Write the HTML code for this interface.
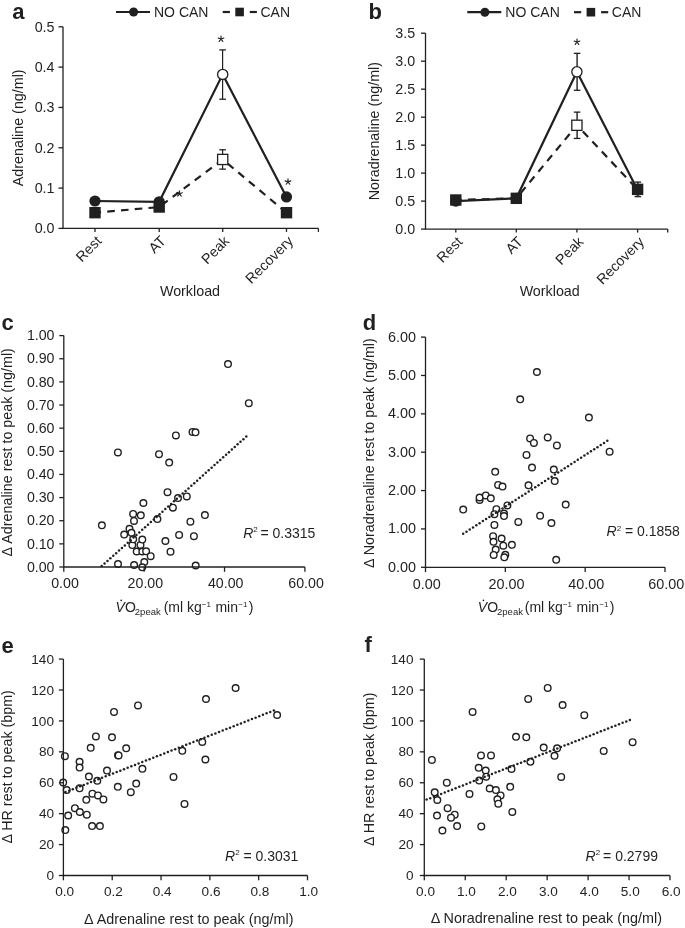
<!DOCTYPE html>
<html><head><meta charset="utf-8"><title>Figure</title>
<style>
html,body{margin:0;padding:0;background:#fff;}
body{width:685px;height:928px;overflow:hidden;}
svg{display:block;font-family:"Liberation Sans",sans-serif;filter:grayscale(1);}
text{fill:#231f20;stroke:none;}
</style></head><body>
<svg width="685" height="928" viewBox="0 0 685 928" stroke="#231f20" fill="none">
<rect x="0" y="0" width="685" height="928" fill="#fff" stroke="none"/>
<line x1="63" y1="26.8" x2="63" y2="228.4" stroke-width="1.3"/>
<line x1="58.5" y1="228.4" x2="63" y2="228.4" stroke-width="1.3"/>
<text x="54.5" y="233.4" font-size="14.3" text-anchor="end">0.0</text>
<line x1="58.5" y1="188.08" x2="63" y2="188.08" stroke-width="1.3"/>
<text x="54.5" y="193.08" font-size="14.3" text-anchor="end">0.1</text>
<line x1="58.5" y1="147.76" x2="63" y2="147.76" stroke-width="1.3"/>
<text x="54.5" y="152.76" font-size="14.3" text-anchor="end">0.2</text>
<line x1="58.5" y1="107.44000000000001" x2="63" y2="107.44000000000001" stroke-width="1.3"/>
<text x="54.5" y="112.44" font-size="14.3" text-anchor="end">0.3</text>
<line x1="58.5" y1="67.12" x2="63" y2="67.12" stroke-width="1.3"/>
<text x="54.5" y="72.12" font-size="14.3" text-anchor="end">0.4</text>
<line x1="58.5" y1="26.80000000000001" x2="63" y2="26.80000000000001" stroke-width="1.3"/>
<text x="54.5" y="31.8" font-size="14.3" text-anchor="end">0.5</text>
<line x1="62.4" y1="228.4" x2="318.4" y2="228.4" stroke-width="1.3"/>
<line x1="95" y1="228.4" x2="95" y2="231.9" stroke-width="1.3"/>
<line x1="159.2" y1="228.4" x2="159.2" y2="231.9" stroke-width="1.3"/>
<line x1="222.7" y1="228.4" x2="222.7" y2="231.9" stroke-width="1.3"/>
<line x1="286.5" y1="228.4" x2="286.5" y2="231.9" stroke-width="1.3"/>
<line x1="318.4" y1="228.4" x2="318.4" y2="231.9" stroke-width="1.3"/>
<text x="102.5" y="241.9" font-size="14.3" text-anchor="end" transform="rotate(-45 102.5 241.9)">Rest</text>
<text x="166.7" y="241.9" font-size="14.3" text-anchor="end" transform="rotate(-45 166.7 241.9)">AT</text>
<text x="230.2" y="241.9" font-size="14.3" text-anchor="end" transform="rotate(-45 230.2 241.9)">Peak</text>
<text x="294.0" y="241.9" font-size="14.3" text-anchor="end" transform="rotate(-45 294.0 241.9)">Recovery</text>
<text x="190" y="295.8" font-size="14.3" text-anchor="middle">Workload</text>
<text x="23.0" y="127.8" font-size="14.3" text-anchor="middle" transform="rotate(-90 23.0 127.8)">Adrenaline (ng/ml)</text>
<text x="12.3" y="19.2" font-size="22" text-anchor="start" font-weight="bold">a</text>
<line x1="116" y1="12" x2="150" y2="12" stroke-width="2.2"/>
<circle cx="133.6" cy="12" r="4.5" fill="#231f20" stroke="none"/>
<text x="154" y="17" font-size="14" text-anchor="start">NO CAN</text>
<line x1="222.7" y1="12" x2="229.9" y2="12" stroke-width="2.2"/>
<rect x="235.3" y="7.7" width="8.6" height="8.6" fill="#231f20" stroke="none"/>
<line x1="249.8" y1="12" x2="256.9" y2="12" stroke-width="2.2"/>
<text x="260.5" y="17" font-size="14" text-anchor="start">CAN</text>
<line x1="222.6" y1="99.21472" x2="222.6" y2="49.90336000000002" stroke-width="1.2"/>
<line x1="219.29999999999998" y1="99.21472" x2="225.9" y2="99.21472" stroke-width="1.3"/>
<line x1="219.29999999999998" y1="49.90336000000002" x2="225.9" y2="49.90336000000002" stroke-width="1.3"/>
<line x1="222.6" y1="169.1296" x2="222.6" y2="149.776" stroke-width="1.2"/>
<line x1="219.29999999999998" y1="169.1296" x2="225.9" y2="169.1296" stroke-width="1.3"/>
<line x1="219.29999999999998" y1="149.776" x2="225.9" y2="149.776" stroke-width="1.3"/>
<polyline points="95.00,200.98 159.20,201.79 222.70,74.38 286.50,196.95" fill="none" stroke-width="2.2" stroke-linejoin="miter"/>
<polyline points="95.00,212.68 159.20,207.03 222.70,159.45 286.50,212.68" fill="none" stroke-width="2.2" stroke-dasharray="7.6 6.2" stroke-dashoffset="1.5"/>
<circle cx="95.00" cy="200.98" r="5.6" fill="#231f20" stroke="none"/>
<circle cx="159.20" cy="201.79" r="5.6" fill="#231f20" stroke="none"/>
<circle cx="222.70" cy="74.38" r="5.1" fill="#fff" stroke-width="1.3"/>
<circle cx="286.50" cy="196.95" r="5.6" fill="#231f20" stroke="none"/>
<rect x="89.30" y="206.98" width="11.4" height="11.4" fill="#231f20" stroke="none"/>
<rect x="153.50" y="201.33" width="11.4" height="11.4" fill="#231f20" stroke="none"/>
<rect x="217.60" y="154.35" width="10.2" height="10.2" fill="#fff" stroke-width="1.3"/>
<rect x="280.80" y="206.98" width="11.4" height="11.4" fill="#231f20" stroke="none"/>
<path d="M221.00,39.00L221.00,36.00M221.00,39.00L223.85,38.07M221.00,39.00L222.76,41.43M221.00,39.00L219.24,41.43M221.00,39.00L218.15,38.07" stroke-width="1.15" stroke-linecap="round"/>
<path d="M288.00,181.80L288.00,178.80M288.00,181.80L290.85,180.87M288.00,181.80L289.76,184.23M288.00,181.80L286.24,184.23M288.00,181.80L285.15,180.87" stroke-width="1.15" stroke-linecap="round"/>
<path d="M179.50,193.70L179.50,190.70M179.50,193.70L182.35,192.77M179.50,193.70L181.26,196.13M179.50,193.70L177.74,196.13M179.50,193.70L176.65,192.77" stroke-width="1.15" stroke-linecap="round"/>
<line x1="425.5" y1="33.2" x2="425.5" y2="229.1" stroke-width="1.3"/>
<line x1="421.0" y1="229.1" x2="425.5" y2="229.1" stroke-width="1.3"/>
<text x="415.1" y="234.1" font-size="14.3" text-anchor="end">0.0</text>
<line x1="421.0" y1="201.1142857142857" x2="425.5" y2="201.1142857142857" stroke-width="1.3"/>
<text x="415.1" y="206.11" font-size="14.3" text-anchor="end">0.5</text>
<line x1="421.0" y1="173.12857142857143" x2="425.5" y2="173.12857142857143" stroke-width="1.3"/>
<text x="415.1" y="178.13" font-size="14.3" text-anchor="end">1.0</text>
<line x1="421.0" y1="145.14285714285717" x2="425.5" y2="145.14285714285717" stroke-width="1.3"/>
<text x="415.1" y="150.14" font-size="14.3" text-anchor="end">1.5</text>
<line x1="421.0" y1="117.15714285714286" x2="425.5" y2="117.15714285714286" stroke-width="1.3"/>
<text x="415.1" y="122.16" font-size="14.3" text-anchor="end">2.0</text>
<line x1="421.0" y1="89.17142857142858" x2="425.5" y2="89.17142857142858" stroke-width="1.3"/>
<text x="415.1" y="94.17" font-size="14.3" text-anchor="end">2.5</text>
<line x1="421.0" y1="61.18571428571431" x2="425.5" y2="61.18571428571431" stroke-width="1.3"/>
<text x="415.1" y="66.19" font-size="14.3" text-anchor="end">3.0</text>
<line x1="421.0" y1="33.200000000000045" x2="425.5" y2="33.200000000000045" stroke-width="1.3"/>
<text x="415.1" y="38.2" font-size="14.3" text-anchor="end">3.5</text>
<line x1="424.9" y1="229.1" x2="667.7" y2="229.1" stroke-width="1.3"/>
<line x1="455.8" y1="229.1" x2="455.8" y2="232.6" stroke-width="1.3"/>
<line x1="516.3" y1="229.1" x2="516.3" y2="232.6" stroke-width="1.3"/>
<line x1="576.9" y1="229.1" x2="576.9" y2="232.6" stroke-width="1.3"/>
<line x1="637.6" y1="229.1" x2="637.6" y2="232.6" stroke-width="1.3"/>
<line x1="667.7" y1="229.1" x2="667.7" y2="232.6" stroke-width="1.3"/>
<text x="463.3" y="242.6" font-size="14.3" text-anchor="end" transform="rotate(-45 463.3 242.6)">Rest</text>
<text x="523.8" y="242.6" font-size="14.3" text-anchor="end" transform="rotate(-45 523.8 242.6)">AT</text>
<text x="584.4" y="242.6" font-size="14.3" text-anchor="end" transform="rotate(-45 584.4 242.6)">Peak</text>
<text x="645.1" y="242.6" font-size="14.3" text-anchor="end" transform="rotate(-45 645.1 242.6)">Recovery</text>
<text x="549.7" y="296.2" font-size="14.3" text-anchor="middle">Workload</text>
<text x="378.9" y="131.1" font-size="14.3" text-anchor="middle" transform="rotate(-90 378.9 131.1)">Noradrenaline (ng/ml)</text>
<text x="368.5" y="19.2" font-size="22" text-anchor="start" font-weight="bold">b</text>
<line x1="467.3" y1="12.2" x2="501.3" y2="12.2" stroke-width="2.2"/>
<circle cx="484.90000000000003" cy="12.2" r="4.5" fill="#231f20" stroke="none"/>
<text x="505.3" y="17.2" font-size="14" text-anchor="start">NO CAN</text>
<line x1="574.0" y1="12.2" x2="581.1999999999999" y2="12.2" stroke-width="2.2"/>
<rect x="586.5999999999999" y="7.8999999999999995" width="8.6" height="8.6" fill="#231f20" stroke="none"/>
<line x1="601.0999999999999" y1="12.2" x2="608.1999999999999" y2="12.2" stroke-width="2.2"/>
<text x="611.8" y="17.2" font-size="14" text-anchor="start">CAN</text>
<line x1="577.1" y1="90.2944" x2="577.1" y2="53.35419999999999" stroke-width="1.4"/>
<line x1="573.8000000000001" y1="90.2944" x2="580.4" y2="90.2944" stroke-width="1.3"/>
<line x1="573.8000000000001" y1="53.35419999999999" x2="580.4" y2="53.35419999999999" stroke-width="1.3"/>
<line x1="577.1" y1="138.4286" x2="577.1" y2="112.12270000000001" stroke-width="1.4"/>
<line x1="573.8000000000001" y1="138.4286" x2="580.4" y2="138.4286" stroke-width="1.3"/>
<line x1="573.8000000000001" y1="112.12270000000001" x2="580.4" y2="112.12270000000001" stroke-width="1.3"/>
<line x1="637.9" y1="196.6374" x2="637.9" y2="182.0852" stroke-width="1.4"/>
<line x1="634.6" y1="196.6374" x2="641.1999999999999" y2="196.6374" stroke-width="1.3"/>
<line x1="634.6" y1="182.0852" x2="641.1999999999999" y2="182.0852" stroke-width="1.3"/>
<polyline points="455.80,201.12 516.30,198.32 576.90,71.82 637.60,189.92" fill="none" stroke-width="2.2" stroke-linejoin="miter"/>
<polyline points="455.80,200.00 516.30,198.32 576.90,125.28 637.60,189.36" fill="none" stroke-width="2.2" stroke-dasharray="7.6 6.2" stroke-dashoffset="1.5"/>
<circle cx="455.80" cy="201.12" r="5.6" fill="#231f20" stroke="none"/>
<circle cx="516.30" cy="198.32" r="5.6" fill="#231f20" stroke="none"/>
<circle cx="576.90" cy="71.82" r="5.1" fill="#fff" stroke-width="1.3"/>
<circle cx="637.60" cy="189.92" r="5.6" fill="#231f20" stroke="none"/>
<rect x="450.10" y="194.30" width="11.4" height="11.4" fill="#231f20" stroke="none"/>
<rect x="510.60" y="192.62" width="11.4" height="11.4" fill="#231f20" stroke="none"/>
<rect x="571.80" y="120.18" width="10.2" height="10.2" fill="#fff" stroke-width="1.3"/>
<rect x="631.90" y="183.66" width="11.4" height="11.4" fill="#231f20" stroke="none"/>
<path d="M577.00,42.00L577.00,39.00M577.00,42.00L579.85,41.07M577.00,42.00L578.76,44.43M577.00,42.00L575.24,44.43M577.00,42.00L574.15,41.07" stroke-width="1.15" stroke-linecap="round"/>
<circle cx="228" cy="364.1" r="3.3" fill="#fff" stroke-width="1.4"/>
<circle cx="248.8" cy="403.2" r="3.3" fill="#fff" stroke-width="1.4"/>
<circle cx="192.5" cy="431.9" r="3.3" fill="#fff" stroke-width="1.4"/>
<circle cx="195.5" cy="432.3" r="3.3" fill="#fff" stroke-width="1.4"/>
<circle cx="175.9" cy="435.4" r="3.3" fill="#fff" stroke-width="1.4"/>
<circle cx="117.9" cy="452.4" r="3.3" fill="#fff" stroke-width="1.4"/>
<circle cx="159" cy="454.2" r="3.3" fill="#fff" stroke-width="1.4"/>
<circle cx="169.2" cy="462.6" r="3.3" fill="#fff" stroke-width="1.4"/>
<circle cx="167.5" cy="492.2" r="3.3" fill="#fff" stroke-width="1.4"/>
<circle cx="178" cy="498.1" r="3.3" fill="#fff" stroke-width="1.4"/>
<circle cx="186.8" cy="496.4" r="3.3" fill="#fff" stroke-width="1.4"/>
<circle cx="143.4" cy="503" r="3.3" fill="#fff" stroke-width="1.4"/>
<circle cx="172.9" cy="507.7" r="3.3" fill="#fff" stroke-width="1.4"/>
<circle cx="133.1" cy="513.9" r="3.3" fill="#fff" stroke-width="1.4"/>
<circle cx="140.8" cy="515.3" r="3.3" fill="#fff" stroke-width="1.4"/>
<circle cx="134" cy="520.9" r="3.3" fill="#fff" stroke-width="1.4"/>
<circle cx="157.4" cy="519.1" r="3.3" fill="#fff" stroke-width="1.4"/>
<circle cx="190.4" cy="521.7" r="3.3" fill="#fff" stroke-width="1.4"/>
<circle cx="204.9" cy="515.1" r="3.3" fill="#fff" stroke-width="1.4"/>
<circle cx="101.9" cy="525.3" r="3.3" fill="#fff" stroke-width="1.4"/>
<circle cx="129.5" cy="528.8" r="3.3" fill="#fff" stroke-width="1.4"/>
<circle cx="124.2" cy="534.6" r="3.3" fill="#fff" stroke-width="1.4"/>
<circle cx="131.5" cy="532.8" r="3.3" fill="#fff" stroke-width="1.4"/>
<circle cx="132.3" cy="545.1" r="3.3" fill="#fff" stroke-width="1.4"/>
<circle cx="140.5" cy="544.9" r="3.3" fill="#fff" stroke-width="1.4"/>
<circle cx="133.2" cy="539.3" r="3.3" fill="#fff" stroke-width="1.4"/>
<circle cx="142.3" cy="539.6" r="3.3" fill="#fff" stroke-width="1.4"/>
<circle cx="136.7" cy="551.5" r="3.3" fill="#fff" stroke-width="1.4"/>
<circle cx="142.3" cy="551.5" r="3.3" fill="#fff" stroke-width="1.4"/>
<circle cx="146.1" cy="551.3" r="3.3" fill="#fff" stroke-width="1.4"/>
<circle cx="150.7" cy="556.2" r="3.3" fill="#fff" stroke-width="1.4"/>
<circle cx="165.4" cy="541" r="3.3" fill="#fff" stroke-width="1.4"/>
<circle cx="170.5" cy="551.7" r="3.3" fill="#fff" stroke-width="1.4"/>
<circle cx="179.1" cy="534.9" r="3.3" fill="#fff" stroke-width="1.4"/>
<circle cx="193.9" cy="536.2" r="3.3" fill="#fff" stroke-width="1.4"/>
<circle cx="118" cy="564" r="3.3" fill="#fff" stroke-width="1.4"/>
<circle cx="134.1" cy="565" r="3.3" fill="#fff" stroke-width="1.4"/>
<circle cx="144.3" cy="562" r="3.3" fill="#fff" stroke-width="1.4"/>
<circle cx="142.2" cy="567.3" r="3.3" fill="#fff" stroke-width="1.4"/>
<circle cx="195.7" cy="565.5" r="3.3" fill="#fff" stroke-width="1.4"/>
<g fill="#231f20" stroke="none"><circle cx="101.70" cy="566.10" r="1.25"/><circle cx="104.59" cy="563.51" r="1.25"/><circle cx="107.48" cy="560.92" r="1.25"/><circle cx="110.38" cy="558.33" r="1.25"/><circle cx="113.27" cy="555.74" r="1.25"/><circle cx="116.16" cy="553.15" r="1.25"/><circle cx="119.05" cy="550.56" r="1.25"/><circle cx="121.94" cy="547.97" r="1.25"/><circle cx="124.84" cy="545.38" r="1.25"/><circle cx="127.73" cy="542.79" r="1.25"/><circle cx="130.62" cy="540.20" r="1.25"/><circle cx="133.51" cy="537.61" r="1.25"/><circle cx="136.40" cy="535.02" r="1.25"/><circle cx="139.30" cy="532.43" r="1.25"/><circle cx="142.19" cy="529.84" r="1.25"/><circle cx="145.08" cy="527.25" r="1.25"/><circle cx="147.97" cy="524.66" r="1.25"/><circle cx="150.86" cy="522.07" r="1.25"/><circle cx="153.76" cy="519.48" r="1.25"/><circle cx="156.65" cy="516.89" r="1.25"/><circle cx="159.54" cy="514.30" r="1.25"/><circle cx="162.43" cy="511.71" r="1.25"/><circle cx="165.32" cy="509.12" r="1.25"/><circle cx="168.22" cy="506.53" r="1.25"/><circle cx="171.11" cy="503.94" r="1.25"/><circle cx="174.00" cy="501.35" r="1.25"/><circle cx="176.89" cy="498.76" r="1.25"/><circle cx="179.78" cy="496.17" r="1.25"/><circle cx="182.68" cy="493.58" r="1.25"/><circle cx="185.57" cy="490.99" r="1.25"/><circle cx="188.46" cy="488.40" r="1.25"/><circle cx="191.35" cy="485.81" r="1.25"/><circle cx="194.24" cy="483.22" r="1.25"/><circle cx="197.14" cy="480.63" r="1.25"/><circle cx="200.03" cy="478.04" r="1.25"/><circle cx="202.92" cy="475.45" r="1.25"/><circle cx="205.81" cy="472.86" r="1.25"/><circle cx="208.70" cy="470.27" r="1.25"/><circle cx="211.60" cy="467.68" r="1.25"/><circle cx="214.49" cy="465.09" r="1.25"/><circle cx="217.38" cy="462.50" r="1.25"/><circle cx="220.27" cy="459.91" r="1.25"/><circle cx="223.16" cy="457.32" r="1.25"/><circle cx="226.06" cy="454.73" r="1.25"/><circle cx="228.95" cy="452.14" r="1.25"/><circle cx="231.84" cy="449.55" r="1.25"/><circle cx="234.73" cy="446.96" r="1.25"/><circle cx="237.62" cy="444.37" r="1.25"/><circle cx="240.52" cy="441.78" r="1.25"/><circle cx="243.41" cy="439.19" r="1.25"/><circle cx="246.30" cy="436.60" r="1.25"/></g>
<line x1="63.8" y1="335.6" x2="63.8" y2="567" stroke-width="1.3"/>
<line x1="59.3" y1="567.0" x2="63.8" y2="567.0" stroke-width="1.3"/>
<text x="54.5" y="571.7" font-size="14.2" text-anchor="end">0.00</text>
<line x1="59.3" y1="543.86" x2="63.8" y2="543.86" stroke-width="1.3"/>
<text x="54.5" y="548.56" font-size="14.2" text-anchor="end">0.10</text>
<line x1="59.3" y1="520.72" x2="63.8" y2="520.72" stroke-width="1.3"/>
<text x="54.5" y="525.42" font-size="14.2" text-anchor="end">0.20</text>
<line x1="59.3" y1="497.58000000000004" x2="63.8" y2="497.58000000000004" stroke-width="1.3"/>
<text x="54.5" y="502.28" font-size="14.2" text-anchor="end">0.30</text>
<line x1="59.3" y1="474.44" x2="63.8" y2="474.44" stroke-width="1.3"/>
<text x="54.5" y="479.14" font-size="14.2" text-anchor="end">0.40</text>
<line x1="59.3" y1="451.3" x2="63.8" y2="451.3" stroke-width="1.3"/>
<text x="54.5" y="456.0" font-size="14.2" text-anchor="end">0.50</text>
<line x1="59.3" y1="428.16" x2="63.8" y2="428.16" stroke-width="1.3"/>
<text x="54.5" y="432.86" font-size="14.2" text-anchor="end">0.60</text>
<line x1="59.3" y1="405.02000000000004" x2="63.8" y2="405.02000000000004" stroke-width="1.3"/>
<text x="54.5" y="409.72" font-size="14.2" text-anchor="end">0.70</text>
<line x1="59.3" y1="381.88" x2="63.8" y2="381.88" stroke-width="1.3"/>
<text x="54.5" y="386.58" font-size="14.2" text-anchor="end">0.80</text>
<line x1="59.3" y1="358.74" x2="63.8" y2="358.74" stroke-width="1.3"/>
<text x="54.5" y="363.44" font-size="14.2" text-anchor="end">0.90</text>
<line x1="59.3" y1="335.6" x2="63.8" y2="335.6" stroke-width="1.3"/>
<text x="54.5" y="340.3" font-size="14.2" text-anchor="end">1.00</text>
<line x1="63.199999999999996" y1="567" x2="304.9" y2="567" stroke-width="1.3"/>
<line x1="63.8" y1="567" x2="63.8" y2="571.8" stroke-width="1.3"/>
<text x="65.0" y="588.4" font-size="14.2" text-anchor="middle">0.00</text>
<line x1="144.16666666666666" y1="567" x2="144.16666666666666" y2="571.8" stroke-width="1.3"/>
<text x="145.37" y="588.4" font-size="14.2" text-anchor="middle">20.00</text>
<line x1="224.5333333333333" y1="567" x2="224.5333333333333" y2="571.8" stroke-width="1.3"/>
<text x="225.73" y="588.4" font-size="14.2" text-anchor="middle">40.00</text>
<line x1="304.9" y1="567" x2="304.9" y2="571.8" stroke-width="1.3"/>
<text x="306.1" y="588.4" font-size="14.2" text-anchor="middle">60.00</text>
<text x="1.5" y="330" font-size="22" text-anchor="start" font-weight="bold">c</text>
<text x="11.9" y="452.3" font-size="14.3" text-anchor="middle" transform="rotate(-90 11.9 452.3)">&#916; Adrenaline rest to peak (ng/ml)</text>
<text x="115.6" y="612" font-size="14"><tspan font-style="italic">V</tspan>O<tspan font-size="9.5" dy="3" dx="-1">2peak</tspan></text><text x="163.7" y="612" font-size="14">(ml kg<tspan font-size="8" dy="-5">&#8722;1</tspan><tspan dy="5" dx="0.6"> min</tspan><tspan font-size="8" dy="-5" dx="0.3">&#8722;1</tspan><tspan dy="5" dx="1.2">)</tspan></text><circle cx="121.19999999999999" cy="600.3" r="0.85" fill="#231f20" stroke="none"/>
<text x="243.2" y="537.6" font-size="14"><tspan font-style="italic">R</tspan><tspan font-size="8" dy="-5.5">2</tspan><tspan dy="5.5" dx="-1.2"> = 0.3315</tspan></text>
<circle cx="536.9" cy="372" r="3.3" fill="#fff" stroke-width="1.4"/>
<circle cx="520.2" cy="399.3" r="3.3" fill="#fff" stroke-width="1.4"/>
<circle cx="588.9" cy="417.5" r="3.3" fill="#fff" stroke-width="1.4"/>
<circle cx="530.1" cy="438.4" r="3.3" fill="#fff" stroke-width="1.4"/>
<circle cx="533.9" cy="442.9" r="3.3" fill="#fff" stroke-width="1.4"/>
<circle cx="547.7" cy="437.4" r="3.3" fill="#fff" stroke-width="1.4"/>
<circle cx="556.9" cy="445.4" r="3.3" fill="#fff" stroke-width="1.4"/>
<circle cx="609.6" cy="451.7" r="3.3" fill="#fff" stroke-width="1.4"/>
<circle cx="526.5" cy="454.9" r="3.3" fill="#fff" stroke-width="1.4"/>
<circle cx="532" cy="467.6" r="3.3" fill="#fff" stroke-width="1.4"/>
<circle cx="553.8" cy="469.6" r="3.3" fill="#fff" stroke-width="1.4"/>
<circle cx="495.2" cy="471.8" r="3.3" fill="#fff" stroke-width="1.4"/>
<circle cx="554.7" cy="481.1" r="3.3" fill="#fff" stroke-width="1.4"/>
<circle cx="528.5" cy="485.3" r="3.3" fill="#fff" stroke-width="1.4"/>
<circle cx="498.1" cy="484.9" r="3.3" fill="#fff" stroke-width="1.4"/>
<circle cx="502.5" cy="486.6" r="3.3" fill="#fff" stroke-width="1.4"/>
<circle cx="479.6" cy="500" r="3.3" fill="#fff" stroke-width="1.4"/>
<circle cx="479.6" cy="497.5" r="3.3" fill="#fff" stroke-width="1.4"/>
<circle cx="485.8" cy="495.4" r="3.3" fill="#fff" stroke-width="1.4"/>
<circle cx="490.8" cy="498.3" r="3.3" fill="#fff" stroke-width="1.4"/>
<circle cx="463.2" cy="509.6" r="3.3" fill="#fff" stroke-width="1.4"/>
<circle cx="496.4" cy="509.2" r="3.3" fill="#fff" stroke-width="1.4"/>
<circle cx="494.4" cy="514.2" r="3.3" fill="#fff" stroke-width="1.4"/>
<circle cx="507.4" cy="505.4" r="3.3" fill="#fff" stroke-width="1.4"/>
<circle cx="565.7" cy="504.6" r="3.3" fill="#fff" stroke-width="1.4"/>
<circle cx="504" cy="513.5" r="3.3" fill="#fff" stroke-width="1.4"/>
<circle cx="504" cy="516.1" r="3.3" fill="#fff" stroke-width="1.4"/>
<circle cx="518.3" cy="521.9" r="3.3" fill="#fff" stroke-width="1.4"/>
<circle cx="540.1" cy="515.7" r="3.3" fill="#fff" stroke-width="1.4"/>
<circle cx="551.4" cy="523" r="3.3" fill="#fff" stroke-width="1.4"/>
<circle cx="494.4" cy="524.9" r="3.3" fill="#fff" stroke-width="1.4"/>
<circle cx="493.1" cy="536.2" r="3.3" fill="#fff" stroke-width="1.4"/>
<circle cx="493.5" cy="541.8" r="3.3" fill="#fff" stroke-width="1.4"/>
<circle cx="501.6" cy="538.5" r="3.3" fill="#fff" stroke-width="1.4"/>
<circle cx="503.3" cy="545.7" r="3.3" fill="#fff" stroke-width="1.4"/>
<circle cx="511.9" cy="544.8" r="3.3" fill="#fff" stroke-width="1.4"/>
<circle cx="495.7" cy="549.6" r="3.3" fill="#fff" stroke-width="1.4"/>
<circle cx="493.7" cy="554.9" r="3.3" fill="#fff" stroke-width="1.4"/>
<circle cx="505.3" cy="554.8" r="3.3" fill="#fff" stroke-width="1.4"/>
<circle cx="504.3" cy="557.3" r="3.3" fill="#fff" stroke-width="1.4"/>
<circle cx="556.2" cy="559.8" r="3.3" fill="#fff" stroke-width="1.4"/>
<g fill="#231f20" stroke="none"><circle cx="463.20" cy="533.80" r="1.25"/><circle cx="466.47" cy="531.69" r="1.25"/><circle cx="469.75" cy="529.57" r="1.25"/><circle cx="473.02" cy="527.46" r="1.25"/><circle cx="476.30" cy="525.35" r="1.25"/><circle cx="479.57" cy="523.23" r="1.25"/><circle cx="482.85" cy="521.12" r="1.25"/><circle cx="486.12" cy="519.00" r="1.25"/><circle cx="489.40" cy="516.89" r="1.25"/><circle cx="492.67" cy="514.78" r="1.25"/><circle cx="495.95" cy="512.66" r="1.25"/><circle cx="499.22" cy="510.55" r="1.25"/><circle cx="502.50" cy="508.44" r="1.25"/><circle cx="505.77" cy="506.32" r="1.25"/><circle cx="509.05" cy="504.21" r="1.25"/><circle cx="512.32" cy="502.10" r="1.25"/><circle cx="515.60" cy="499.98" r="1.25"/><circle cx="518.88" cy="497.87" r="1.25"/><circle cx="522.15" cy="495.75" r="1.25"/><circle cx="525.42" cy="493.64" r="1.25"/><circle cx="528.70" cy="491.53" r="1.25"/><circle cx="531.98" cy="489.41" r="1.25"/><circle cx="535.25" cy="487.30" r="1.25"/><circle cx="538.52" cy="485.19" r="1.25"/><circle cx="541.80" cy="483.07" r="1.25"/><circle cx="545.07" cy="480.96" r="1.25"/><circle cx="548.35" cy="478.85" r="1.25"/><circle cx="551.62" cy="476.73" r="1.25"/><circle cx="554.90" cy="474.62" r="1.25"/><circle cx="558.17" cy="472.50" r="1.25"/><circle cx="561.45" cy="470.39" r="1.25"/><circle cx="564.72" cy="468.28" r="1.25"/><circle cx="568.00" cy="466.16" r="1.25"/><circle cx="571.27" cy="464.05" r="1.25"/><circle cx="574.55" cy="461.94" r="1.25"/><circle cx="577.82" cy="459.82" r="1.25"/><circle cx="581.10" cy="457.71" r="1.25"/><circle cx="584.38" cy="455.60" r="1.25"/><circle cx="587.65" cy="453.48" r="1.25"/><circle cx="590.92" cy="451.37" r="1.25"/><circle cx="594.20" cy="449.25" r="1.25"/><circle cx="597.47" cy="447.14" r="1.25"/><circle cx="600.75" cy="445.03" r="1.25"/><circle cx="604.02" cy="442.91" r="1.25"/><circle cx="607.30" cy="440.80" r="1.25"/></g>
<line x1="425.5" y1="337.1" x2="425.5" y2="567.3" stroke-width="1.3"/>
<line x1="421.0" y1="567.3" x2="425.5" y2="567.3" stroke-width="1.3"/>
<text x="416" y="571.8" font-size="14.4" text-anchor="end">0.00</text>
<line x1="421.0" y1="528.9333333333333" x2="425.5" y2="528.9333333333333" stroke-width="1.3"/>
<text x="416" y="533.43" font-size="14.4" text-anchor="end">1.00</text>
<line x1="421.0" y1="490.56666666666666" x2="425.5" y2="490.56666666666666" stroke-width="1.3"/>
<text x="416" y="495.07" font-size="14.4" text-anchor="end">2.00</text>
<line x1="421.0" y1="452.2" x2="425.5" y2="452.2" stroke-width="1.3"/>
<text x="416" y="456.7" font-size="14.4" text-anchor="end">3.00</text>
<line x1="421.0" y1="413.83333333333337" x2="425.5" y2="413.83333333333337" stroke-width="1.3"/>
<text x="416" y="418.33" font-size="14.4" text-anchor="end">4.00</text>
<line x1="421.0" y1="375.4666666666667" x2="425.5" y2="375.4666666666667" stroke-width="1.3"/>
<text x="416" y="379.97" font-size="14.4" text-anchor="end">5.00</text>
<line x1="421.0" y1="337.1" x2="425.5" y2="337.1" stroke-width="1.3"/>
<text x="416" y="341.6" font-size="14.4" text-anchor="end">6.00</text>
<line x1="424.9" y1="567.3" x2="665" y2="567.3" stroke-width="1.3"/>
<line x1="425.5" y1="567.3" x2="425.5" y2="572.0999999999999" stroke-width="1.3"/>
<text x="426.7" y="588.6" font-size="14.4" text-anchor="middle">0.00</text>
<line x1="505.3333333333333" y1="567.3" x2="505.3333333333333" y2="572.0999999999999" stroke-width="1.3"/>
<text x="506.53" y="588.6" font-size="14.4" text-anchor="middle">20.00</text>
<line x1="585.1666666666666" y1="567.3" x2="585.1666666666666" y2="572.0999999999999" stroke-width="1.3"/>
<text x="586.37" y="588.6" font-size="14.4" text-anchor="middle">40.00</text>
<line x1="665.0" y1="567.3" x2="665.0" y2="572.0999999999999" stroke-width="1.3"/>
<text x="666.2" y="588.6" font-size="14.4" text-anchor="middle">60.00</text>
<text x="362.8" y="330" font-size="22" text-anchor="start" font-weight="bold">d</text>
<text x="374" y="453.1" font-size="14.3" text-anchor="middle" transform="rotate(-90 374 453.1)">&#916; Noradrenaline rest to peak (ng/ml)</text>
<text x="477.8" y="612" font-size="14"><tspan font-style="italic">V</tspan>O<tspan font-size="9.5" dy="3" dx="-1">2peak</tspan></text><text x="524.8" y="612" font-size="14">(ml kg<tspan font-size="8" dy="-5">&#8722;1</tspan><tspan dy="5" dx="0.6"> min</tspan><tspan font-size="8" dy="-5" dx="0.3">&#8722;1</tspan><tspan dy="5" dx="1.2">)</tspan></text><circle cx="483.40000000000003" cy="600.3" r="0.85" fill="#231f20" stroke="none"/>
<text x="606.5" y="536.4" font-size="14"><tspan font-style="italic">R</tspan><tspan font-size="8" dy="-5.5">2</tspan><tspan dy="5.5" dx="0"> = 0.1858</tspan></text>
<circle cx="235.6" cy="688" r="3.3" fill="#fff" stroke-width="1.4"/>
<circle cx="206" cy="699" r="3.3" fill="#fff" stroke-width="1.4"/>
<circle cx="138" cy="705.4" r="3.3" fill="#fff" stroke-width="1.4"/>
<circle cx="114" cy="711.9" r="3.3" fill="#fff" stroke-width="1.4"/>
<circle cx="277.1" cy="715" r="3.3" fill="#fff" stroke-width="1.4"/>
<circle cx="95.9" cy="736.4" r="3.3" fill="#fff" stroke-width="1.4"/>
<circle cx="112" cy="737.3" r="3.3" fill="#fff" stroke-width="1.4"/>
<circle cx="202.3" cy="741.9" r="3.3" fill="#fff" stroke-width="1.4"/>
<circle cx="90.7" cy="747.8" r="3.3" fill="#fff" stroke-width="1.4"/>
<circle cx="126.2" cy="748.3" r="3.3" fill="#fff" stroke-width="1.4"/>
<circle cx="182.3" cy="750.8" r="3.3" fill="#fff" stroke-width="1.4"/>
<circle cx="118.0" cy="755.2" r="3.3" fill="#fff" stroke-width="1.4"/>
<circle cx="118.6" cy="755.4" r="3.3" fill="#fff" stroke-width="1.4"/>
<circle cx="64.9" cy="756.2" r="3.3" fill="#fff" stroke-width="1.4"/>
<circle cx="205.4" cy="759.5" r="3.3" fill="#fff" stroke-width="1.4"/>
<circle cx="79.6" cy="761.8" r="3.3" fill="#fff" stroke-width="1.4"/>
<circle cx="79.6" cy="767.6" r="3.3" fill="#fff" stroke-width="1.4"/>
<circle cx="142.4" cy="768.8" r="3.3" fill="#fff" stroke-width="1.4"/>
<circle cx="107" cy="770.6" r="3.3" fill="#fff" stroke-width="1.4"/>
<circle cx="173.5" cy="776.9" r="3.3" fill="#fff" stroke-width="1.4"/>
<circle cx="88.9" cy="776.5" r="3.3" fill="#fff" stroke-width="1.4"/>
<circle cx="97.3" cy="780.8" r="3.3" fill="#fff" stroke-width="1.4"/>
<circle cx="63.2" cy="782.5" r="3.3" fill="#fff" stroke-width="1.4"/>
<circle cx="136.2" cy="783.6" r="3.3" fill="#fff" stroke-width="1.4"/>
<circle cx="117.8" cy="786.8" r="3.3" fill="#fff" stroke-width="1.4"/>
<circle cx="79.6" cy="788.3" r="3.3" fill="#fff" stroke-width="1.4"/>
<circle cx="66.7" cy="790.1" r="3.3" fill="#fff" stroke-width="1.4"/>
<circle cx="130.8" cy="792.2" r="3.3" fill="#fff" stroke-width="1.4"/>
<circle cx="92.4" cy="793.7" r="3.3" fill="#fff" stroke-width="1.4"/>
<circle cx="98" cy="795.4" r="3.3" fill="#fff" stroke-width="1.4"/>
<circle cx="103.4" cy="799.4" r="3.3" fill="#fff" stroke-width="1.4"/>
<circle cx="86.3" cy="799.8" r="3.3" fill="#fff" stroke-width="1.4"/>
<circle cx="184.5" cy="803.9" r="3.3" fill="#fff" stroke-width="1.4"/>
<circle cx="74.9" cy="808.2" r="3.3" fill="#fff" stroke-width="1.4"/>
<circle cx="79.8" cy="812" r="3.3" fill="#fff" stroke-width="1.4"/>
<circle cx="86.8" cy="814.7" r="3.3" fill="#fff" stroke-width="1.4"/>
<circle cx="68.2" cy="815.5" r="3.3" fill="#fff" stroke-width="1.4"/>
<circle cx="92.1" cy="826.1" r="3.3" fill="#fff" stroke-width="1.4"/>
<circle cx="99.9" cy="826.1" r="3.3" fill="#fff" stroke-width="1.4"/>
<circle cx="65.3" cy="830.1" r="3.3" fill="#fff" stroke-width="1.4"/>
<g fill="#231f20" stroke="none"><circle cx="65.50" cy="792.10" r="1.25"/><circle cx="69.16" cy="790.67" r="1.25"/><circle cx="72.81" cy="789.24" r="1.25"/><circle cx="76.47" cy="787.81" r="1.25"/><circle cx="80.12" cy="786.37" r="1.25"/><circle cx="83.78" cy="784.94" r="1.25"/><circle cx="87.44" cy="783.51" r="1.25"/><circle cx="91.09" cy="782.08" r="1.25"/><circle cx="94.75" cy="780.65" r="1.25"/><circle cx="98.41" cy="779.22" r="1.25"/><circle cx="102.06" cy="777.78" r="1.25"/><circle cx="105.72" cy="776.35" r="1.25"/><circle cx="109.37" cy="774.92" r="1.25"/><circle cx="113.03" cy="773.49" r="1.25"/><circle cx="116.69" cy="772.06" r="1.25"/><circle cx="120.34" cy="770.63" r="1.25"/><circle cx="124.00" cy="769.19" r="1.25"/><circle cx="127.65" cy="767.76" r="1.25"/><circle cx="131.31" cy="766.33" r="1.25"/><circle cx="134.97" cy="764.90" r="1.25"/><circle cx="138.62" cy="763.47" r="1.25"/><circle cx="142.28" cy="762.04" r="1.25"/><circle cx="145.94" cy="760.61" r="1.25"/><circle cx="149.59" cy="759.17" r="1.25"/><circle cx="153.25" cy="757.74" r="1.25"/><circle cx="156.90" cy="756.31" r="1.25"/><circle cx="160.56" cy="754.88" r="1.25"/><circle cx="164.22" cy="753.45" r="1.25"/><circle cx="167.87" cy="752.02" r="1.25"/><circle cx="171.53" cy="750.58" r="1.25"/><circle cx="175.18" cy="749.15" r="1.25"/><circle cx="178.84" cy="747.72" r="1.25"/><circle cx="182.50" cy="746.29" r="1.25"/><circle cx="186.15" cy="744.86" r="1.25"/><circle cx="189.81" cy="743.43" r="1.25"/><circle cx="193.46" cy="741.99" r="1.25"/><circle cx="197.12" cy="740.56" r="1.25"/><circle cx="200.78" cy="739.13" r="1.25"/><circle cx="204.43" cy="737.70" r="1.25"/><circle cx="208.09" cy="736.27" r="1.25"/><circle cx="211.75" cy="734.84" r="1.25"/><circle cx="215.40" cy="733.41" r="1.25"/><circle cx="219.06" cy="731.97" r="1.25"/><circle cx="222.71" cy="730.54" r="1.25"/><circle cx="226.37" cy="729.11" r="1.25"/><circle cx="230.03" cy="727.68" r="1.25"/><circle cx="233.68" cy="726.25" r="1.25"/><circle cx="237.34" cy="724.82" r="1.25"/><circle cx="240.99" cy="723.38" r="1.25"/><circle cx="244.65" cy="721.95" r="1.25"/><circle cx="248.31" cy="720.52" r="1.25"/><circle cx="251.96" cy="719.09" r="1.25"/><circle cx="255.62" cy="717.66" r="1.25"/><circle cx="259.28" cy="716.23" r="1.25"/><circle cx="262.93" cy="714.79" r="1.25"/><circle cx="266.59" cy="713.36" r="1.25"/><circle cx="270.24" cy="711.93" r="1.25"/><circle cx="273.90" cy="710.50" r="1.25"/></g>
<line x1="63.4" y1="659.1" x2="63.4" y2="875.5" stroke-width="1.3"/>
<line x1="58.9" y1="875.5" x2="63.4" y2="875.5" stroke-width="1.3"/>
<text x="54" y="880.1" font-size="13.6" text-anchor="end">0</text>
<line x1="58.9" y1="844.5857142857143" x2="63.4" y2="844.5857142857143" stroke-width="1.3"/>
<text x="54" y="849.19" font-size="13.6" text-anchor="end">20</text>
<line x1="58.9" y1="813.6714285714286" x2="63.4" y2="813.6714285714286" stroke-width="1.3"/>
<text x="54" y="818.27" font-size="13.6" text-anchor="end">40</text>
<line x1="58.9" y1="782.7571428571429" x2="63.4" y2="782.7571428571429" stroke-width="1.3"/>
<text x="54" y="787.36" font-size="13.6" text-anchor="end">60</text>
<line x1="58.9" y1="751.8428571428572" x2="63.4" y2="751.8428571428572" stroke-width="1.3"/>
<text x="54" y="756.44" font-size="13.6" text-anchor="end">80</text>
<line x1="58.9" y1="720.9285714285714" x2="63.4" y2="720.9285714285714" stroke-width="1.3"/>
<text x="54" y="725.53" font-size="13.6" text-anchor="end">100</text>
<line x1="58.9" y1="690.0142857142857" x2="63.4" y2="690.0142857142857" stroke-width="1.3"/>
<text x="54" y="694.61" font-size="13.6" text-anchor="end">120</text>
<line x1="58.9" y1="659.1" x2="63.4" y2="659.1" stroke-width="1.3"/>
<text x="54" y="663.7" font-size="13.6" text-anchor="end">140</text>
<line x1="62.8" y1="875.5" x2="307.5" y2="875.5" stroke-width="1.3"/>
<line x1="63.4" y1="875.5" x2="63.4" y2="880.3" stroke-width="1.3"/>
<text x="64.6" y="896.4" font-size="13.6" text-anchor="middle">0.0</text>
<line x1="112.22" y1="875.5" x2="112.22" y2="880.3" stroke-width="1.3"/>
<text x="113.42" y="896.4" font-size="13.6" text-anchor="middle">0.2</text>
<line x1="161.04" y1="875.5" x2="161.04" y2="880.3" stroke-width="1.3"/>
<text x="162.24" y="896.4" font-size="13.6" text-anchor="middle">0.4</text>
<line x1="209.85999999999999" y1="875.5" x2="209.85999999999999" y2="880.3" stroke-width="1.3"/>
<text x="211.06" y="896.4" font-size="13.6" text-anchor="middle">0.6</text>
<line x1="258.68" y1="875.5" x2="258.68" y2="880.3" stroke-width="1.3"/>
<text x="259.88" y="896.4" font-size="13.6" text-anchor="middle">0.8</text>
<line x1="307.5" y1="875.5" x2="307.5" y2="880.3" stroke-width="1.3"/>
<text x="308.7" y="896.4" font-size="13.6" text-anchor="middle">1.0</text>
<text x="1.5" y="652.6" font-size="22" text-anchor="start" font-weight="bold">e</text>
<text x="11.9" y="766.8" font-size="14.3" text-anchor="middle" transform="rotate(-90 11.9 766.8)">&#916; HR rest to peak (bpm)</text>
<text x="188.7" y="924" font-size="14.4" text-anchor="middle">&#916; Adrenaline rest to peak (ng/ml)</text>
<text x="225.0" y="860.7" font-size="14"><tspan font-style="italic">R</tspan><tspan font-size="8" dy="-5.5">2</tspan><tspan dy="5.5" dx="0"> = 0.3031</tspan></text>
<circle cx="547.7" cy="687.9" r="3.3" fill="#fff" stroke-width="1.4"/>
<circle cx="528.2" cy="698.9" r="3.3" fill="#fff" stroke-width="1.4"/>
<circle cx="562.6" cy="705" r="3.3" fill="#fff" stroke-width="1.4"/>
<circle cx="584.3" cy="715.2" r="3.3" fill="#fff" stroke-width="1.4"/>
<circle cx="472.6" cy="711.9" r="3.3" fill="#fff" stroke-width="1.4"/>
<circle cx="516" cy="736.8" r="3.3" fill="#fff" stroke-width="1.4"/>
<circle cx="526.3" cy="737.3" r="3.3" fill="#fff" stroke-width="1.4"/>
<circle cx="632.6" cy="742.2" r="3.3" fill="#fff" stroke-width="1.4"/>
<circle cx="543.7" cy="747.6" r="3.3" fill="#fff" stroke-width="1.4"/>
<circle cx="557.1" cy="748.3" r="3.3" fill="#fff" stroke-width="1.4"/>
<circle cx="603.7" cy="750.9" r="3.3" fill="#fff" stroke-width="1.4"/>
<circle cx="481" cy="755.4" r="3.3" fill="#fff" stroke-width="1.4"/>
<circle cx="491" cy="755.4" r="3.3" fill="#fff" stroke-width="1.4"/>
<circle cx="554.5" cy="755.8" r="3.3" fill="#fff" stroke-width="1.4"/>
<circle cx="431.9" cy="759.9" r="3.3" fill="#fff" stroke-width="1.4"/>
<circle cx="530.4" cy="761.8" r="3.3" fill="#fff" stroke-width="1.4"/>
<circle cx="478.7" cy="767.8" r="3.3" fill="#fff" stroke-width="1.4"/>
<circle cx="511.5" cy="768.9" r="3.3" fill="#fff" stroke-width="1.4"/>
<circle cx="485.7" cy="770.6" r="3.3" fill="#fff" stroke-width="1.4"/>
<circle cx="486.2" cy="776.7" r="3.3" fill="#fff" stroke-width="1.4"/>
<circle cx="561.2" cy="776.9" r="3.3" fill="#fff" stroke-width="1.4"/>
<circle cx="479.2" cy="780.6" r="3.3" fill="#fff" stroke-width="1.4"/>
<circle cx="446.8" cy="782.7" r="3.3" fill="#fff" stroke-width="1.4"/>
<circle cx="510.2" cy="786.8" r="3.3" fill="#fff" stroke-width="1.4"/>
<circle cx="489.7" cy="788.5" r="3.3" fill="#fff" stroke-width="1.4"/>
<circle cx="495.9" cy="790.1" r="3.3" fill="#fff" stroke-width="1.4"/>
<circle cx="434.7" cy="792.3" r="3.3" fill="#fff" stroke-width="1.4"/>
<circle cx="469.5" cy="793.9" r="3.3" fill="#fff" stroke-width="1.4"/>
<circle cx="500.6" cy="795.4" r="3.3" fill="#fff" stroke-width="1.4"/>
<circle cx="437.3" cy="800" r="3.3" fill="#fff" stroke-width="1.4"/>
<circle cx="497.4" cy="799.3" r="3.3" fill="#fff" stroke-width="1.4"/>
<circle cx="498.3" cy="803.7" r="3.3" fill="#fff" stroke-width="1.4"/>
<circle cx="447.6" cy="808.2" r="3.3" fill="#fff" stroke-width="1.4"/>
<circle cx="512.3" cy="811.9" r="3.3" fill="#fff" stroke-width="1.4"/>
<circle cx="437" cy="815.6" r="3.3" fill="#fff" stroke-width="1.4"/>
<circle cx="454.7" cy="814.7" r="3.3" fill="#fff" stroke-width="1.4"/>
<circle cx="451" cy="817.7" r="3.3" fill="#fff" stroke-width="1.4"/>
<circle cx="457.1" cy="826.1" r="3.3" fill="#fff" stroke-width="1.4"/>
<circle cx="481.3" cy="826.4" r="3.3" fill="#fff" stroke-width="1.4"/>
<circle cx="442.4" cy="830.5" r="3.3" fill="#fff" stroke-width="1.4"/>
<g fill="#231f20" stroke="none"><circle cx="426.60" cy="799.60" r="1.25"/><circle cx="430.23" cy="798.18" r="1.25"/><circle cx="433.86" cy="796.76" r="1.25"/><circle cx="437.49" cy="795.34" r="1.25"/><circle cx="441.12" cy="793.91" r="1.25"/><circle cx="444.75" cy="792.49" r="1.25"/><circle cx="448.38" cy="791.07" r="1.25"/><circle cx="452.01" cy="789.65" r="1.25"/><circle cx="455.64" cy="788.23" r="1.25"/><circle cx="459.27" cy="786.81" r="1.25"/><circle cx="462.90" cy="785.39" r="1.25"/><circle cx="466.53" cy="783.96" r="1.25"/><circle cx="470.16" cy="782.54" r="1.25"/><circle cx="473.79" cy="781.12" r="1.25"/><circle cx="477.43" cy="779.70" r="1.25"/><circle cx="481.06" cy="778.28" r="1.25"/><circle cx="484.69" cy="776.86" r="1.25"/><circle cx="488.32" cy="775.44" r="1.25"/><circle cx="491.95" cy="774.01" r="1.25"/><circle cx="495.58" cy="772.59" r="1.25"/><circle cx="499.21" cy="771.17" r="1.25"/><circle cx="502.84" cy="769.75" r="1.25"/><circle cx="506.47" cy="768.33" r="1.25"/><circle cx="510.10" cy="766.91" r="1.25"/><circle cx="513.73" cy="765.49" r="1.25"/><circle cx="517.36" cy="764.06" r="1.25"/><circle cx="520.99" cy="762.64" r="1.25"/><circle cx="524.62" cy="761.22" r="1.25"/><circle cx="528.25" cy="759.80" r="1.25"/><circle cx="531.88" cy="758.38" r="1.25"/><circle cx="535.51" cy="756.96" r="1.25"/><circle cx="539.14" cy="755.54" r="1.25"/><circle cx="542.77" cy="754.11" r="1.25"/><circle cx="546.40" cy="752.69" r="1.25"/><circle cx="550.03" cy="751.27" r="1.25"/><circle cx="553.66" cy="749.85" r="1.25"/><circle cx="557.29" cy="748.43" r="1.25"/><circle cx="560.92" cy="747.01" r="1.25"/><circle cx="564.55" cy="745.59" r="1.25"/><circle cx="568.18" cy="744.16" r="1.25"/><circle cx="571.81" cy="742.74" r="1.25"/><circle cx="575.44" cy="741.32" r="1.25"/><circle cx="579.08" cy="739.90" r="1.25"/><circle cx="582.71" cy="738.48" r="1.25"/><circle cx="586.34" cy="737.06" r="1.25"/><circle cx="589.97" cy="735.64" r="1.25"/><circle cx="593.60" cy="734.21" r="1.25"/><circle cx="597.23" cy="732.79" r="1.25"/><circle cx="600.86" cy="731.37" r="1.25"/><circle cx="604.49" cy="729.95" r="1.25"/><circle cx="608.12" cy="728.53" r="1.25"/><circle cx="611.75" cy="727.11" r="1.25"/><circle cx="615.38" cy="725.69" r="1.25"/><circle cx="619.01" cy="724.26" r="1.25"/><circle cx="622.64" cy="722.84" r="1.25"/><circle cx="626.27" cy="721.42" r="1.25"/><circle cx="629.90" cy="720.00" r="1.25"/></g>
<line x1="424.3" y1="659.1" x2="424.3" y2="875.5" stroke-width="1.3"/>
<line x1="419.8" y1="875.5" x2="424.3" y2="875.5" stroke-width="1.3"/>
<text x="413.5" y="880.1" font-size="13.6" text-anchor="end">0</text>
<line x1="419.8" y1="844.5857142857143" x2="424.3" y2="844.5857142857143" stroke-width="1.3"/>
<text x="413.5" y="849.19" font-size="13.6" text-anchor="end">20</text>
<line x1="419.8" y1="813.6714285714286" x2="424.3" y2="813.6714285714286" stroke-width="1.3"/>
<text x="413.5" y="818.27" font-size="13.6" text-anchor="end">40</text>
<line x1="419.8" y1="782.7571428571429" x2="424.3" y2="782.7571428571429" stroke-width="1.3"/>
<text x="413.5" y="787.36" font-size="13.6" text-anchor="end">60</text>
<line x1="419.8" y1="751.8428571428572" x2="424.3" y2="751.8428571428572" stroke-width="1.3"/>
<text x="413.5" y="756.44" font-size="13.6" text-anchor="end">80</text>
<line x1="419.8" y1="720.9285714285714" x2="424.3" y2="720.9285714285714" stroke-width="1.3"/>
<text x="413.5" y="725.53" font-size="13.6" text-anchor="end">100</text>
<line x1="419.8" y1="690.0142857142857" x2="424.3" y2="690.0142857142857" stroke-width="1.3"/>
<text x="413.5" y="694.61" font-size="13.6" text-anchor="end">120</text>
<line x1="419.8" y1="659.1" x2="424.3" y2="659.1" stroke-width="1.3"/>
<text x="413.5" y="663.7" font-size="13.6" text-anchor="end">140</text>
<line x1="423.7" y1="875.5" x2="670" y2="875.5" stroke-width="1.3"/>
<line x1="424.3" y1="875.5" x2="424.3" y2="880.3" stroke-width="1.3"/>
<text x="425.5" y="896.4" font-size="13.6" text-anchor="middle">0.0</text>
<line x1="465.25" y1="875.5" x2="465.25" y2="880.3" stroke-width="1.3"/>
<text x="466.45" y="896.4" font-size="13.6" text-anchor="middle">1.0</text>
<line x1="506.2" y1="875.5" x2="506.2" y2="880.3" stroke-width="1.3"/>
<text x="507.4" y="896.4" font-size="13.6" text-anchor="middle">2.0</text>
<line x1="547.15" y1="875.5" x2="547.15" y2="880.3" stroke-width="1.3"/>
<text x="548.35" y="896.4" font-size="13.6" text-anchor="middle">3.0</text>
<line x1="588.1" y1="875.5" x2="588.1" y2="880.3" stroke-width="1.3"/>
<text x="589.3" y="896.4" font-size="13.6" text-anchor="middle">4.0</text>
<line x1="629.05" y1="875.5" x2="629.05" y2="880.3" stroke-width="1.3"/>
<text x="630.25" y="896.4" font-size="13.6" text-anchor="middle">5.0</text>
<line x1="670.0" y1="875.5" x2="670.0" y2="880.3" stroke-width="1.3"/>
<text x="671.2" y="896.4" font-size="13.6" text-anchor="middle">6.0</text>
<text x="364.5" y="652.4" font-size="22" text-anchor="start" font-weight="bold">f</text>
<text x="374" y="769.25" font-size="14.3" text-anchor="middle" transform="rotate(-90 374 769.25)">&#916; HR rest to peak (bpm)</text>
<text x="546.4" y="923" font-size="14.4" text-anchor="middle">&#916; Noradrenaline rest to peak (ng/ml)</text>
<text x="585.6" y="860.7" font-size="14"><tspan font-style="italic">R</tspan><tspan font-size="8" dy="-5.5">2</tspan><tspan dy="5.5" dx="-1.0"> = 0.2799</tspan></text>
</svg>
</body></html>
